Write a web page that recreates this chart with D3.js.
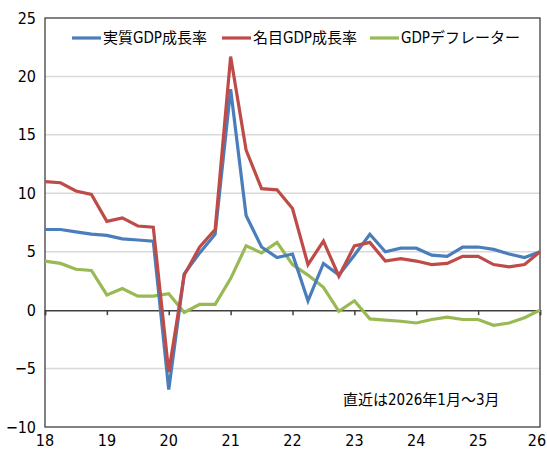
<!DOCTYPE html>
<html>
<head>
<meta charset="utf-8">
<script src="https://cdn.jsdelivr.net/npm/d3@7"></script>
<style>
  body { margin: 0; background: #fff; }
  svg { display: block; }
  text { font-family: "DejaVu Sans Condensed", "Noto Sans CJK JP", sans-serif; fill: #000; }
  .jp { font-family: "Noto Sans CJK JP", sans-serif; }
</style>
</head>
<body>
<div id="chart"></div>
<script>
// quarterly, 2018 Jan-Mar .. 2026 Jan-Mar
const years = [18, 19, 20, 21, 22, 23, 24, 25, 26]
const yTicks = [-10, -5, 0, 5, 10, 15, 20, 25]

const realGrowth = [6.9, 6.9, 6.7, 6.5, 6.4, 6.1, 6.0, 5.9, -6.8, 3.1, 4.9, 6.5,
  18.9, 8.1, 5.4, 4.5, 4.8, 0.8, 4.0, 3.0, 4.7, 6.5, 5.0, 5.3,
  5.3, 4.7, 4.6, 5.4, 5.4, 5.2, 4.8, 4.5, 5.0]
const nominalGrowth = [11.0, 10.9, 10.2, 9.9, 7.6, 7.9, 7.2, 7.1, -5.3, 3.0, 5.4, 6.9,
  21.7, 13.7, 10.4, 10.3, 8.7, 3.9, 5.9, 2.9, 5.5, 5.8, 4.2, 4.4,
  4.2, 3.9, 4.0, 4.6, 4.6, 3.9, 3.7, 3.9, 5.0]
const deflator = [4.2, 4.0, 3.5, 3.4, 1.3, 1.85, 1.2, 1.2, 1.4, -0.2, 0.5, 0.5,
  2.7, 5.5, 4.9, 5.8, 3.9, 3.0, 1.95, -0.1, 0.8, -0.75, -0.85, -0.95,
  -1.1, -0.8, -0.6, -0.8, -0.8, -1.3, -1.1, -0.65, 0.0]

const seriesNames = ['実質GDP成長率', '名目GDP成長率', 'GDPデフレーター']
const seriesColors = ['#4a7ebb', '#be4b48', '#98b954']
const note = '直近は2026年1月～3月'

const width = 547
const height = 450
const margin = {top: 18, right: 7, bottom: 23, left: 45}

const svg = d3.select('#chart').append('svg')
  .attr('width', width)
  .attr('height', height)

const x = d3.scaleLinear()
  .domain([18, 26])
  .range([margin.left, width - margin.right])

const y = d3.scaleLinear()
  .domain([-10, 25])
  .range([height - margin.bottom, margin.top])

// gridlines
svg.append('g')
  .selectAll('line')
  .data(yTicks.filter(d => d !== 0 && d !== -10 && d !== 25))
  .enter().append('line')
  .attr('x1', x(18)).attr('x2', x(26))
  .attr('y1', d => y(d)).attr('y2', d => y(d))
  .attr('stroke', '#d9d9d9')
  .attr('stroke-width', 1.5)

// frame
svg.append('rect')
  .attr('x', x(18)).attr('y', y(25))
  .attr('width', x(26) - x(18)).attr('height', y(-10) - y(25))
  .attr('fill', 'none')
  .attr('stroke', '#404040')
  .attr('stroke-width', 1.3)

// y axis labels
svg.append('g')
  .selectAll('text')
  .data(yTicks)
  .enter().append('text')
  .attr('x', x(18) - 9)
  .attr('y', d => y(d))
  .attr('dy', '0.35em')
  .attr('text-anchor', 'end')
  .style('font-size', '16px')
  .text(d => d < 0 ? '−' + Math.abs(d) : d)

// zero line with year ticks
const zeroAxis = d3.axisBottom(x)
  .tickValues(years)
  .tickSize(5)
  .tickFormat('')
svg.append('g')
  .attr('transform', 'translate(0,' + y(0) + ')')
  .call(zeroAxis)
  .call(g => g.selectAll('line').attr('stroke', '#404040').attr('stroke-width', 1.5))
  .call(g => g.select('.domain').attr('stroke', '#404040').attr('stroke-width', 1.5))

// x labels
svg.append('g')
  .selectAll('text')
  .data(years)
  .enter().append('text')
  .attr('x', d => d === 26 ? x(d) - 3 : x(d))
  .attr('y', y(-10) + 19)
  .attr('text-anchor', 'middle')
  .style('font-size', '16px')
  .text(d => d)

const line = d3.line()
  .x((d, i) => x(18 + i / 4))
  .y(d => y(d))

const allSeries = [realGrowth, nominalGrowth, deflator]
// draw deflator first, then real, then nominal on top
const order = [2, 0, 1]
svg.append('g')
  .selectAll('path')
  .data(order)
  .enter().append('path')
  .attr('d', k => line(allSeries[k]))
  .attr('fill', 'none')
  .attr('stroke', k => seriesColors[k])
  .attr('stroke-width', 3.2)
  .attr('stroke-linejoin', 'miter')

// legend
const legendX = [72, 222, 370]
const legend = svg.append('g')
  .selectAll('g')
  .data(seriesNames)
  .enter().append('g')
  .attr('transform', (d, i) => 'translate(' + legendX[i] + ',' + 38 + ')')

legend.append('line')
  .attr('x1', 0).attr('x2', 29)
  .attr('stroke', (d, i) => seriesColors[i])
  .attr('stroke-width', 3.2)

legend.append('text')
  .attr('x', 31)
  .attr('dy', '0.35em')
  .style('font-size', '15px')
  .text(d => d)

svg.append('text')
  .attr('x', 343)
  .attr('y', 400)
  .attr('dy', '0.35em')
  .style('font-size', '15px')
  .text(note)
</script>
</body>
</html>
